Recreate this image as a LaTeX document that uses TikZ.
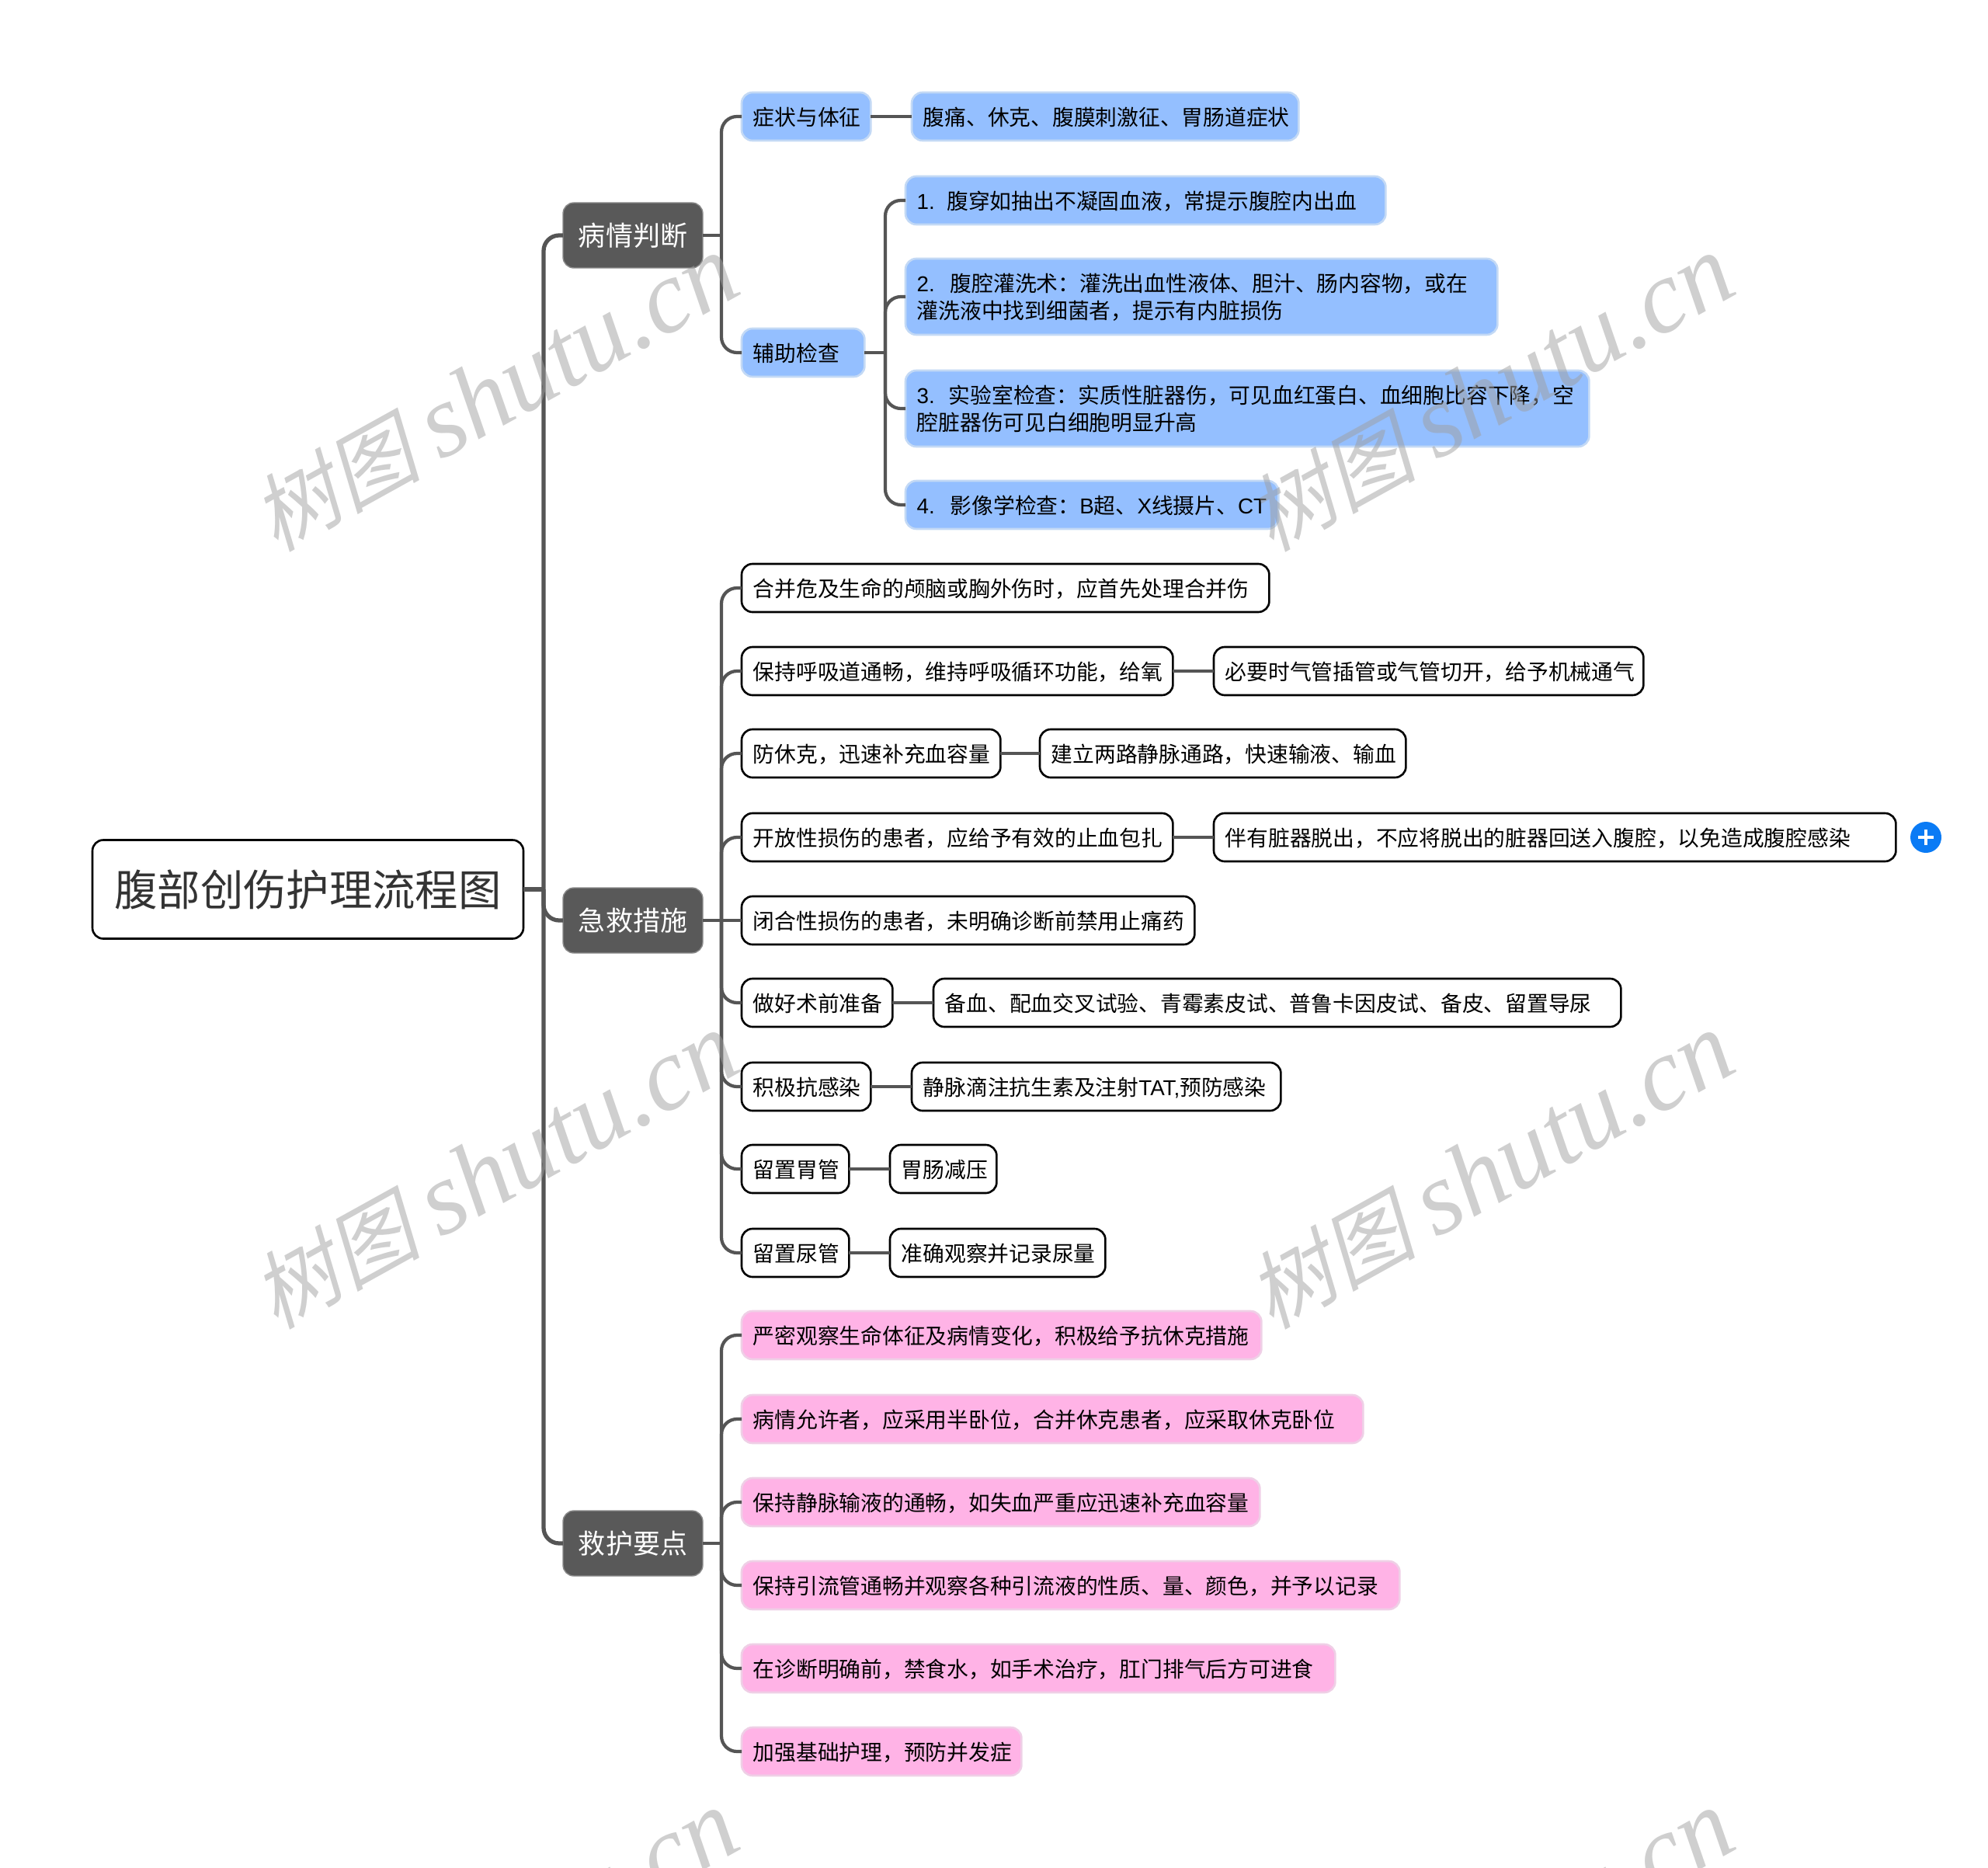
\documentclass[tikz,border=0pt]{standalone}
\usepackage{fontspec}
\setmainfont{Noto Sans CJK SC}
\newfontfamily\latinpart{Liberation Sans}
\newfontfamily\wmcjk[FakeSlant=0.22]{Noto Sans CJK SC}
\newfontfamily\wmlatin{Liberation Serif}
\usepackage{xcolor}
\usepackage{tikz}
\definecolor{linkgray}{HTML}{555555}
\definecolor{topicgray}{HTML}{595959}
\definecolor{roottext}{HTML}{333333}
\definecolor{bluefill}{HTML}{94BFFF}
\definecolor{blueedge}{HTML}{C3D9F5}
\definecolor{pinkfill}{HTML}{FFB3E6}
\definecolor{pinkedge}{HTML}{EFCFE6}
\definecolor{plusblue}{HTML}{0A7BF5}
\newcommand{\wmtext}{\fontsize{31}{40}\wmcjk 树图 \fontsize{38}{40}\wmlatin\itshape shutu.cn}
\tikzset{
	item/.style={rounded corners=0.14cm, anchor=west, inner xsep=0.147cm, inner ysep=0pt, outer sep=0pt, minimum height=0.62cm, text depth=0pt, align=left, text=black, font=\fontsize{7.9}{10}\selectfont},
	plain/.style={item, draw=black, fill=white, line width=0.75pt},
	blue/.style={item, draw=blueedge, fill=bluefill, line width=0.75pt},
	pink/.style={item, draw=pinkedge, fill=pinkfill, line width=0.75pt},
	topic/.style={rounded corners=0.14cm, anchor=west, draw=topicgray!70, fill=topicgray, text=white, minimum width=1.8cm, minimum height=0.84cm, inner sep=0pt, outer sep=0pt, font=\fontsize{9.96}{12}\selectfont},
	link/.style={draw=linkgray, line width=1.2pt, rounded corners=0.2cm},
	mainlink/.style={draw=linkgray, line width=1.5pt, rounded corners=0.2cm},
	wmark/.style={rotate=29, text=gray!75, opacity=0.5, inner sep=0pt}
}
\begin{document}
\begin{tikzpicture}
	\useasboundingbox (0,0) rectangle (25.6,-24.05);
	
	\node[rounded corners=0.14cm, anchor=west, draw=black, line width=0.75pt, text=roottext, minimum width=5.55cm, minimum height=1.27cm, inner sep=0pt, outer sep=0pt, font=\fontsize{15.75}{18}\selectfont] (root) at (1.19,-11.45) {腹部创伤护理流程图};
	
	\node[topic] (judge) at (7.25,-3.03) {病情判断};
	\node[topic] (rescue) at (7.25,-11.85) {急救措施};
	\node[topic] (care) at (7.25,-19.87) {救护要点};
	
	\node[blue, text width=1.37cm] (sign) at (9.55,-1.50) {症状与体征};
	\node[blue, text width=4.69cm] (signb) at (11.74,-1.50) {腹痛、休克、腹膜刺激征、胃肠道症状};
	\node[blue, text width=1.29cm] (exam) at (9.55,-4.54) {辅助检查};
	\node[blue, text width=5.89cm] (examone) at (11.66,-2.58) {{\latinpart 1.}\hspace{0.56em}腹穿如抽出不凝固血液，常提示腹腔内出血};
	\node[blue, text width=7.33cm, minimum height=0.98cm, text depth=10.3pt] (examtwo) at (11.66,-3.82) {{\latinpart 2.}\hspace{0.72em}腹腔灌洗术：灌洗出血性液体、胆汁、肠内容物，或在\\灌洗液中找到细菌者，提示有内脏损伤};
	\node[blue, text width=8.51cm, minimum height=0.98cm, text depth=10.3pt] (examthree) at (11.66,-5.26) {{\latinpart 3.}\hspace{0.65em}实验室检查：实质性脏器伤，可见血红蛋白、血细胞比容下降，空\\腔脏器伤可见白细胞明显升高};
	\node[blue, text width=4.51cm] (examfour) at (11.66,-6.50) {{\latinpart 4.}\hspace{0.72em}影像学检查：{\latinpart B}超、{\latinpart X}线摄片、{\latinpart CT}};
	
	\node[plain, text width=6.50cm] (head) at (9.55,-7.57) {合并危及生命的颅脑或胸外伤时，应首先处理合并伤};
	\node[plain, text width=5.26cm] (air) at (9.55,-8.64) {保持呼吸道通畅，维持呼吸循环功能，给氧};
	\node[plain, text width=5.24cm] (airb) at (15.63,-8.64) {必要时气管插管或气管切开，给予机械通气};
	\node[plain, text width=3.04cm] (shock) at (9.55,-9.70) {防休克，迅速补充血容量};
	\node[plain, text width=4.42cm] (shockb) at (13.39,-9.70) {建立两路静脉通路，快速输液、输血};
	\node[plain, text width=5.26cm] (open) at (9.55,-10.78) {开放性损伤的患者，应给予有效的止血包扎};
	\node[plain, text width=8.49cm] (openb) at (15.63,-10.78) {伴有脏器脱出，不应将脱出的脏器回送入腹腔，以免造成腹腔感染};
	\node[plain, text width=5.54cm] (closed) at (9.55,-11.85) {闭合性损伤的患者，未明确诊断前禁用止痛药};
	\node[plain, text width=1.65cm] (preop) at (9.55,-12.91) {做好术前准备};
	\node[plain, text width=8.56cm] (preopb) at (12.02,-12.91) {备血、配血交叉试验、青霉素皮试、普鲁卡因皮试、备皮、留置导尿};
	\node[plain, text width=1.37cm] (anti) at (9.55,-13.99) {积极抗感染};
	\node[plain, text width=4.46cm] (antib) at (11.74,-13.99) {静脉滴注抗生素及注射{\latinpart TAT,}预防感染};
	\node[plain, text width=1.09cm] (gastric) at (9.55,-15.05) {留置胃管};
	\node[plain, text width=1.08cm] (gastricb) at (11.46,-15.05) {胃肠减压};
	\node[plain, text width=1.09cm] (urine) at (9.55,-16.13) {留置尿管};
	\node[plain, text width=2.48cm] (urineb) at (11.46,-16.13) {准确观察并记录尿量};
	
	\node[pink, text width=6.40cm] (vital) at (9.55,-17.19) {严密观察生命体征及病情变化，积极给予抗休克措施};
	\node[pink, text width=7.71cm] (pose) at (9.55,-18.27) {病情允许者，应采用半卧位，合并休克患者，应采取休克卧位};
	\node[pink, text width=6.38cm] (drip) at (9.55,-19.34) {保持静脉输液的通畅，如失血严重应迅速补充血容量};
	\node[pink, text width=8.18cm] (drain) at (9.55,-20.41) {保持引流管通畅并观察各种引流液的性质、量、颜色，并予以记录};
	\node[pink, text width=7.35cm] (fast) at (9.55,-21.48) {在诊断明确前，禁食水，如手术治疗，肛门排气后方可进食};
	\node[pink, text width=3.31cm] (basic) at (9.55,-22.55) {加强基础护理，预防并发症};
	
	\node[circle, fill=plusblue, minimum size=0.4cm, inner sep=0pt] (more) at (24.80,-10.78) {};
	\draw[white, line width=0.9pt] (more.center) ++(-0.1,0) -- ++(0.2,0);
	\draw[white, line width=0.9pt] (more.center) ++(0,-0.1) -- ++(0,0.2);
	
	\coordinate (rootsp) at (7.00,-11.45);
	\coordinate (judgesp) at (9.29,-3.03);
	\coordinate (examsp) at (11.40,-4.54);
	\coordinate (rescuesp) at (9.29,-11.85);
	\coordinate (caresp) at (9.29,-19.87);
	
	\draw[mainlink] (root.east) -- (rootsp);
	\draw[mainlink] (rootsp) |- (judge.west);
	\draw[mainlink] (rootsp) |- (rescue.west);
	\draw[mainlink] (rootsp) |- (care.west);
	
	\draw[link] (judge.east) -- (judgesp);
	\draw[link] (judgesp) |- (sign.west);
	\draw[link] (judgesp) |- (exam.west);
	\draw[link] (sign.east) -- (signb.west);
	\draw[link] (exam.east) -- (examsp);
	\draw[link] (examsp) |- (examone.west);
	\draw[link] (examsp) |- (examtwo.west);
	\draw[link] (examsp) |- (examthree.west);
	\draw[link] (examsp) |- (examfour.west);
	
	\draw[link] (rescue.east) -- (rescuesp);
	\draw[link] (rescuesp) |- (head.west);
	\draw[link] (rescuesp) |- (air.west);
	\draw[link] (rescuesp) |- (shock.west);
	\draw[link] (rescuesp) |- (open.west);
	\draw[link] (rescuesp) -- (closed.west);
	\draw[link] (rescuesp) |- (preop.west);
	\draw[link] (rescuesp) |- (anti.west);
	\draw[link] (rescuesp) |- (gastric.west);
	\draw[link] (rescuesp) |- (urine.west);
	\draw[link] (air.east) -- (airb.west);
	\draw[link] (shock.east) -- (shockb.west);
	\draw[link] (open.east) -- (openb.west);
	\draw[link] (preop.east) -- (preopb.west);
	\draw[link] (anti.east) -- (antib.west);
	\draw[link] (gastric.east) -- (gastricb.west);
	\draw[link] (urine.east) -- (urineb.west);
	
	\draw[link] (care.east) -- (caresp);
	\draw[link] (caresp) |- (vital.west);
	\draw[link] (caresp) |- (pose.west);
	\draw[link] (caresp) |- (drip.west);
	\draw[link] (caresp) |- (drain.west);
	\draw[link] (caresp) |- (fast.west);
	\draw[link] (caresp) |- (basic.west);
	
	\node[wmark] (wmone) at (6.37,-5.07) {\wmtext};
	\node[wmark] (wmtwo) at (19.19,-5.07) {\wmtext};
	\node[wmark] (wmthree) at (6.37,-15.08) {\wmtext};
	\node[wmark] (wmfour) at (19.19,-15.08) {\wmtext};
	\node[wmark] (wmfive) at (6.37,-25.09) {\wmtext};
	\node[wmark] (wmsix) at (19.19,-25.09) {\wmtext};
\end{tikzpicture}
\end{document}
